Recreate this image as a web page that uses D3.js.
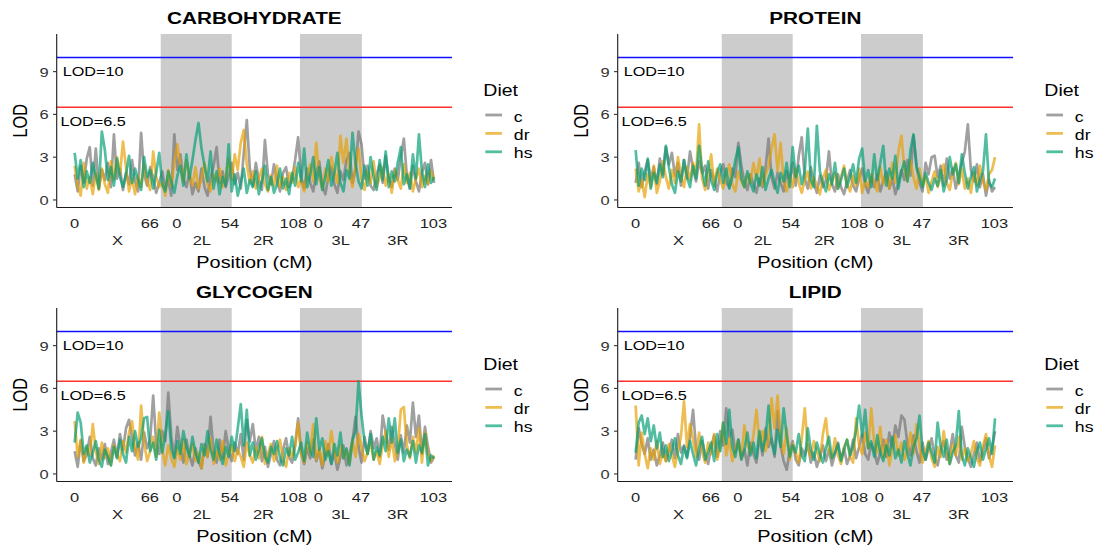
<!DOCTYPE html>
<html><head><meta charset="utf-8">
<script src="https://cdn.jsdelivr.net/npm/d3@7"></script>
<style>body{margin:0;background:#fff}svg{display:block}</style>
</head><body><svg id="chart" width="1100" height="552"></svg>
<script>
// ---------------- data ----------------
const panelTitles = ["CARBOHYDRATE", "PROTEIN", "GLYCOGEN", "LIPID"];
const diets = ["c", "dr", "hs"];
const dietColors = ["#737373", "#E69F00", "#009E73"];

const carbC = [1.8,0.6,2.4,1.2,2.9,3.7,1.0,3.6,0.8,2.1,1.4,2.6,0.9,4.6,1.5,2.2,0.7,1.9,1.1,2.8,
1.3,0.6,4.7,1.8,1.0,2.3,1.6,0.5,1.2,2.0,0.8,1.4,0.3,4.6,2.1,3.2,1.5,0.9,1.9,0.4,
1.2,0.6,2.2,0.9,0.3,1.6,2.4,3.7,1.2,2.0,0.9,1.7,2.6,1.1,1.9,0.8,3.3,5.6,2.2,1.0,
2.6,1.4,0.7,4.2,1.8,1.1,2.5,1.3,0.6,1.9,2.3,0.9,1.5,2.8,4.4,1.6,0.8,2.2,1.2,0.6,
1.9,2.7,1.0,0.4,1.6,2.3,1.1,0.5,2.0,1.4,2.8,3.3,1.2,2.1,4.8,3.9,1.5,2.4,1.0,0.7,
1.8,2.5,1.2,3.1,1.6,0.9,2.2,1.4,3.0,4.3,1.7,0.8,2.4,1.3,0.6,1.9,2.6,1.1,2.8,1.2];
const carbDr = [2.4,1.0,0.3,2.6,0.8,1.6,0.4,1.9,0.7,2.2,1.1,0.5,2.7,1.4,3.0,1.8,4.1,2.3,0.6,1.5,
0.4,1.7,0.9,2.5,1.2,0.7,3.4,1.6,0.9,1.2,0.3,2.1,1.0,2.6,3.9,2.4,1.3,2.8,1.7,1.0,
2.3,0.8,1.5,2.6,1.1,0.6,1.8,1.3,2.2,0.9,1.6,2.9,1.4,3.2,2.1,4.0,4.9,2.5,1.2,2.0,
0.8,1.5,2.2,1.1,0.6,1.7,1.0,2.4,0.9,1.6,0.7,1.9,1.2,2.3,0.9,1.4,0.6,1.8,2.5,1.3,
4.0,1.6,0.8,2.2,1.3,3.0,1.9,1.2,4.5,2.6,4.3,1.8,0.9,2.4,3.6,1.5,0.7,2.0,1.2,2.7,
0.9,1.6,2.3,1.0,1.8,0.5,2.1,1.4,0.8,2.5,1.2,1.9,0.6,1.5,2.2,0.9,1.7,1.1,2.0,1.4];
const carbHs = [3.3,1.5,2.8,0.9,2.0,1.2,2.6,1.7,0.8,4.8,3.5,1.4,2.3,1.0,2.9,1.6,0.9,1.8,3.1,1.2,
2.2,1.4,0.7,3.0,1.6,2.1,0.8,1.9,3.3,1.1,0.6,2.0,1.3,0.5,1.7,2.4,1.0,3.2,1.5,2.8,
4.2,5.4,3.6,2.4,1.3,3.4,0.8,2.0,0.4,1.6,1.0,3.9,0.6,1.8,0.3,1.2,2.2,0.5,1.4,0.9,
2.0,0.4,1.3,2.4,0.7,1.6,0.5,1.1,2.2,0.8,1.5,0.4,1.9,1.0,2.6,1.3,3.6,0.9,1.8,3.0,
1.1,2.3,0.7,1.6,2.8,1.0,1.9,3.3,1.2,0.6,2.1,1.5,4.7,2.6,1.3,0.8,2.4,1.0,3.0,1.6,
0.7,2.8,1.4,3.4,0.9,2.0,1.3,2.6,3.7,1.1,1.8,0.8,3.2,1.5,4.6,2.0,0.9,2.5,1.2,1.6];

const protC = [1.2,2.6,0.9,2.0,2.8,1.4,2.3,1.1,2.9,1.8,3.7,2.5,3.3,1.7,2.6,1.0,2.8,1.5,3.4,2.2,
1.3,2.7,1.9,2.4,0.8,2.1,1.4,0.6,1.9,2.5,1.2,0.9,2.2,1.6,4.0,2.4,1.3,0.7,1.8,1.1,
0.5,1.5,0.9,2.2,4.3,1.6,0.8,1.9,1.2,0.6,2.0,1.3,2.6,1.0,3.1,4.4,1.5,0.8,2.3,1.2,
0.5,1.7,0.9,1.4,3.4,1.1,0.6,1.8,0.9,0.4,1.3,2.1,1.0,0.6,1.5,2.2,1.1,0.5,1.6,0.9,
1.8,0.6,1.3,2.0,0.8,1.5,0.4,1.2,2.1,1.4,2.8,1.7,4.5,2.3,1.2,0.6,2.6,1.8,3.0,3.1,
1.6,2.4,1.0,2.9,1.5,2.2,0.8,1.7,2.6,3.4,5.3,2.1,1.3,2.5,0.9,1.8,0.3,1.4,0.6,0.9];
const protDr = [2.2,0.6,1.4,0.2,1.8,0.9,2.4,0.5,1.3,2.7,1.6,0.8,2.1,1.2,3.0,1.7,0.9,2.3,1.4,2.6,
1.8,5.3,1.5,0.7,1.9,3.2,1.0,2.2,1.4,0.8,1.7,2.5,1.1,0.6,2.0,1.3,0.9,1.8,1.2,2.6,
1.5,2.9,1.0,1.7,2.4,3.6,4.6,2.0,4.0,1.3,0.6,1.6,0.9,2.2,1.2,0.5,1.4,2.0,0.8,1.6,
1.0,0.4,1.5,2.1,0.7,1.3,1.9,0.8,1.6,2.4,1.1,0.6,1.7,1.0,2.2,0.5,1.4,0.9,1.8,1.2,
0.6,2.3,1.1,1.7,0.8,2.6,1.2,3.4,4.5,2.1,1.3,2.8,1.6,0.8,2.2,1.0,1.7,0.5,1.3,2.0,
0.9,1.6,2.5,1.2,0.7,1.9,2.6,1.1,2.2,0.8,1.5,0.5,1.9,1.0,2.4,1.3,0.7,1.8,2.1,3.0];
const protHs = [3.5,1.0,2.2,1.4,2.9,0.8,1.9,1.2,2.5,1.6,3.8,2.3,1.1,0.5,2.0,1.3,2.8,1.6,0.9,2.4,
1.5,3.8,2.1,1.0,2.7,1.4,0.7,1.9,2.5,1.2,2.2,0.8,1.6,2.8,3.7,1.5,0.9,2.0,1.2,0.6,
1.8,1.0,2.3,0.7,1.5,2.1,1.2,0.5,1.9,1.3,2.6,0.9,3.7,1.6,2.4,1.1,2.0,5.0,1.4,0.9,
5.2,2.0,1.2,0.6,1.8,1.1,2.6,0.8,1.4,2.2,0.9,1.6,2.5,1.2,2.9,3.6,1.3,2.1,0.9,3.2,
1.4,2.6,3.8,1.0,2.2,1.5,3.1,0.8,2.0,2.7,1.3,3.5,4.6,2.4,1.6,0.9,1.9,1.2,0.7,1.5,
1.0,2.1,0.6,1.4,3.0,1.8,2.5,1.2,3.2,1.9,0.8,1.6,2.3,0.6,1.4,2.0,4.6,1.2,0.9,1.5];

const glycC = [1.6,0.5,2.3,0.9,1.4,2.6,1.1,0.6,1.8,1.0,2.1,0.7,1.5,2.4,1.2,2.8,1.7,3.2,3.8,2.5,
1.3,2.2,1.0,2.9,1.8,2.4,5.5,2.1,1.4,3.0,2.3,5.7,2.6,1.2,3.3,1.9,0.8,2.4,1.3,0.6,
1.8,0.9,0.4,2.1,1.2,4.0,1.6,0.8,2.4,1.1,3.0,1.7,0.9,2.2,1.4,2.8,1.0,3.8,2.3,3.5,
1.6,2.6,0.9,1.9,0.5,1.4,2.3,1.0,0.6,1.7,2.5,1.2,0.8,2.0,3.9,1.5,0.7,1.8,1.1,2.4,
0.9,1.6,0.4,1.3,2.1,0.7,1.5,0.3,1.2,2.0,0.6,1.4,2.3,4.0,1.9,0.8,2.6,1.4,3.0,1.8,
2.5,1.2,4.1,2.9,1.7,3.3,2.1,1.0,2.7,1.5,3.4,2.2,5.0,2.6,4.1,1.4,3.3,1.9,0.8,1.2];
const glycDr = [3.7,1.2,2.4,0.8,1.9,1.3,3.5,1.6,0.7,2.2,1.1,1.8,0.6,2.0,1.4,0.9,2.3,1.5,2.9,3.7,
1.8,1.0,4.8,2.2,0.9,1.6,2.6,1.2,4.3,1.7,0.6,2.0,1.1,0.5,1.8,1.0,2.4,0.7,1.4,2.1,
0.9,1.5,0.4,1.9,1.2,2.5,0.7,1.6,1.0,2.3,0.6,1.4,2.0,0.9,1.7,1.2,0.5,2.2,1.3,0.8,
1.9,1.1,2.6,0.7,1.4,2.1,0.9,1.6,2.4,1.0,0.5,1.8,1.2,2.0,3.6,1.4,0.8,2.2,1.5,3.5,
1.0,1.8,0.6,2.3,1.3,3.0,1.6,0.8,2.0,1.1,1.7,0.7,2.4,1.2,2.8,1.9,0.9,1.5,2.2,1.0,
1.6,0.7,2.1,3.0,1.2,2.5,0.9,1.7,4.5,4.7,2.0,1.1,2.6,1.5,3.2,0.8,2.9,1.4,0.9,1.3];
const glycHs = [2.2,4.3,3.6,1.4,2.0,0.8,1.5,2.3,1.0,0.5,1.7,1.2,0.6,1.9,1.1,2.4,1.4,0.8,2.6,1.6,
3.0,1.9,2.5,3.9,4.0,1.6,2.2,1.0,3.1,1.5,2.7,4.4,1.8,1.1,2.3,1.4,3.0,1.9,1.2,2.6,
1.5,0.8,2.1,1.3,3.0,1.7,1.0,2.4,1.4,0.7,1.9,1.2,2.6,1.6,3.2,4.9,2.0,4.5,1.3,2.2,
1.0,1.7,2.5,1.2,0.8,1.9,1.4,2.3,1.1,0.6,1.8,1.3,2.6,1.0,1.5,2.2,0.9,2.9,1.6,1.2,
3.9,1.7,2.5,1.0,1.6,0.7,2.1,1.3,2.9,1.1,1.8,0.6,2.4,3.0,6.5,4.1,2.2,1.4,2.8,1.0,
1.9,1.3,2.6,1.6,3.9,2.2,3.9,1.5,2.4,0.9,1.7,1.2,2.3,0.8,2.0,1.5,2.8,0.6,1.3,1.1];

const lipC = [1.0,3.2,2.1,1.4,2.5,1.0,1.7,0.6,1.3,2.2,0.9,1.6,2.4,1.1,2.8,1.5,2.0,1.2,2.6,4.5,
1.8,1.0,2.3,1.4,0.7,1.9,2.7,1.2,3.0,2.0,4.6,2.6,3.1,1.5,2.4,1.1,1.7,0.6,2.2,1.4,
0.8,2.7,1.3,3.2,1.9,2.5,1.2,4.4,2.0,0.9,0.3,1.6,2.3,1.0,0.6,1.8,1.3,2.1,0.8,1.5,
0.5,1.2,2.0,0.9,1.7,0.6,1.4,2.2,1.0,1.8,0.7,1.3,2.4,1.1,1.9,2.8,1.4,1.0,2.1,1.6,
0.7,1.5,2.4,1.2,2.9,1.8,3.4,2.6,4.1,3.8,2.1,1.3,2.7,1.6,0.8,2.2,1.0,1.8,2.5,1.2,
0.6,1.7,2.3,1.0,1.5,2.8,1.3,0.8,3.3,1.9,1.1,0.5,1.4,2.2,0.9,1.6,2.5,1.1,1.8,3.0];
const lipDr = [4.8,0.6,2.9,1.4,0.4,1.8,1.0,2.3,0.7,1.5,0.9,2.1,1.3,0.5,1.7,2.6,5.1,1.9,3.5,2.4,
1.2,2.9,1.6,0.8,2.2,1.4,2.8,1.0,1.9,3.6,1.3,2.5,0.9,1.7,2.3,1.1,3.4,2.0,1.5,2.7,
4.5,2.2,3.0,1.6,2.4,5.3,3.2,5.5,2.6,1.4,3.2,1.0,2.1,1.5,0.8,2.5,4.6,1.8,1.2,2.3,
1.6,0.9,2.8,3.9,1.7,1.1,2.5,1.3,0.7,1.9,2.4,1.2,0.8,3.9,2.0,1.4,2.9,1.8,4.6,2.2,
1.5,3.3,1.1,2.4,0.6,1.8,2.7,1.3,2.2,1.0,1.6,2.9,1.4,3.5,1.9,0.8,1.6,2.3,1.1,0.5,
1.9,1.2,3.0,1.5,0.7,2.1,1.3,2.6,1.0,1.8,0.9,1.4,2.3,1.1,0.6,1.9,2.8,1.3,0.5,2.0];
const lipHs = [1.5,3.6,4.1,2.8,3.9,2.3,3.4,1.8,2.9,1.2,2.0,0.9,1.6,2.5,1.3,0.7,1.9,1.1,2.3,1.4,
0.6,1.8,2.6,1.0,1.5,2.2,0.9,2.8,1.6,3.6,2.1,4.5,1.9,1.2,2.4,1.0,1.7,2.9,1.3,2.2,
1.1,3.0,1.6,2.5,4.8,2.3,1.4,3.1,1.9,4.6,2.7,1.2,2.0,1.5,2.8,1.3,0.9,3.2,1.7,1.0,
2.2,1.4,0.8,1.8,2.6,1.1,1.5,2.1,0.9,1.7,2.4,1.3,2.0,3.1,4.8,2.6,4.5,1.8,2.3,1.2,
2.7,1.5,0.9,2.0,1.3,2.6,1.1,1.7,0.8,2.3,1.4,0.6,1.9,2.5,4.1,1.6,1.0,2.2,1.5,0.8,
3.6,1.9,1.2,2.4,0.7,1.5,2.0,4.4,1.3,0.6,1.8,1.1,0.5,1.6,2.2,1.0,1.7,2.5,1.4,3.9];

// x-axis (marker index) annotations
const tickPositions = [0, 24.9, 33.8, 51.4, 72.4, 80.7, 94.8, 118.8];
const tickLabels = ["0", "66", "0", "54", "108", "0", "47", "103"];
const chromNames = ["X", "2L", "2R", "3L", "3R"];
const chromLabelPos = [14.2, 42.1, 62.5, 88.1, 107.0];
const shadeStart = [28.5, 74.6];
const shadeEnd = [52.0, 95.1];
const yTicks = [0, 3, 6, 9];
const thresholds = [10, 6.5];
const thresholdLabels = ["LOD=10", "LOD=6.5"];
const thresholdColors = ["#1010FF", "#FF3030"];

const panelSeries = [
  [carbC, carbDr, carbHs],
  [protC, protDr, protHs],
  [glycC, glycDr, glycHs],
  [lipC, lipDr, lipHs]
];

// ---------------- drawing ----------------
const SX = 1.22;            // horizontal stretch of the reference text
const FONT = "Liberation Sans, Arial, Helvetica, sans-serif";
const svg = d3.select("#chart");
const N = carbC.length;

const pw = 395.3, ph = 173.5;
const x = d3.scaleLinear().domain([-0.05 * (N - 1), 1.05 * (N - 1)]).range([0, pw]);
const y = d3.scaleLinear().domain([-0.53, 11.64]).range([ph, 0]);

function stext(g, tx, ty, str, opts) {
  const t = g.append("text")
    .attr("transform", `translate(${tx},${ty}) scale(${SX},1)` + (opts.rotate ? ` rotate(${opts.rotate})` : ""))
    .attr("font-family", FONT)
    .attr("font-size", opts.size)
    .attr("fill", opts.fill || "#000")
    .attr("text-anchor", opts.anchor || "start")
    .text(str);
  if (opts.bold) t.attr("font-weight", "bold");
  if (opts.baseline) t.attr("dominant-baseline", opts.baseline);
  return t;
}

panelTitles.forEach((title, p) => {
  const col = p % 2, row = Math.floor(p / 2);
  const ox = 56.7 + col * 561, oy = 34 + row * 274;
  const g = svg.append("g").attr("transform", `translate(${ox},${oy})`);

  // shaded chromosome arms
  g.selectAll("rect.shade").data(shadeStart).join("rect")
    .attr("x", (d) => x(d))
    .attr("width", (d, i) => x(shadeEnd[i]) - x(d))
    .attr("y", 0).attr("height", ph)
    .attr("fill", "#cccccc");

  // threshold lines
  thresholds.forEach((t, i) => {
    g.append("line").attr("x1", 0).attr("x2", pw)
      .attr("y1", y(t)).attr("y2", y(t))
      .attr("stroke", thresholdColors[i]).attr("stroke-width", 1.5);
  });

  // series lines
  const line = d3.line().x((d, i) => x(i)).y((d) => y(d));
  panelSeries[p].forEach((vals, k) => {
    g.append("path").datum(vals)
      .attr("d", line)
      .attr("fill", "none")
      .attr("stroke", dietColors[k])
      .attr("stroke-opacity", 0.68)
      .attr("stroke-width", 2.7)
      .attr("stroke-linejoin", "round");
  });

  // threshold labels
  thresholds.forEach((t, i) => {
    stext(g, x(6.1), y(t - 1), thresholdLabels[i], {size: 13.3, anchor: "middle", baseline: "central"});
  });

  // axes lines
  g.append("line").attr("x1", 0).attr("x2", 0).attr("y1", 0).attr("y2", ph)
    .attr("stroke", "#1a1a1a").attr("stroke-width", 1.1);
  g.append("line").attr("x1", 0).attr("x2", pw).attr("y1", ph).attr("y2", ph)
    .attr("stroke", "#1a1a1a").attr("stroke-width", 1.1);

  // y ticks
  yTicks.forEach((v) => {
    g.append("line").attr("x1", -3.7).attr("x2", 0).attr("y1", y(v)).attr("y2", y(v))
      .attr("stroke", "#333").attr("stroke-width", 1.1);
    stext(g, -8, y(v), String(v), {size: 13.5, anchor: "end", baseline: "central", fill: "#333"});
  });

  // x tick labels & chromosome names
  tickPositions.forEach((v, i) => {
    stext(g, x(v), ph + 20, tickLabels[i], {size: 13.5, anchor: "middle", fill: "#222"});
  });
  chromNames.forEach((c, i) => {
    stext(g, x(chromLabelPos[i]), ph + 37.5, c, {size: 13.5, anchor: "middle", fill: "#222"});
  });

  // axis titles
  stext(g, pw / 2, ph + 60.5, "Position (cM)", {size: 16.3, anchor: "middle"});
  stext(g, -36.7, ph / 2, "LOD", {size: 16.3, anchor: "middle", baseline: "central", rotate: -90});

  // panel title
  stext(g, pw / 2, -10, title, {size: 17, anchor: "middle", bold: true});

  // legend
  const lg = g.append("g").attr("transform", `translate(${426.6},0)`);
  stext(lg, 0, 62, "Diet", {size: 16, anchor: "start"});
  diets.forEach((d, k) => {
    const ly = 81 + k * 18.4;
    lg.append("line").attr("x1", 2).attr("x2", 18.7).attr("y1", ly).attr("y2", ly)
      .attr("stroke", dietColors[k]).attr("stroke-opacity", 0.68).attr("stroke-width", 2.8);
    stext(lg, 30.5, ly + 6.5, d, {size: 14.5, anchor: "start"});
  });
});
</script>
</body></html>
